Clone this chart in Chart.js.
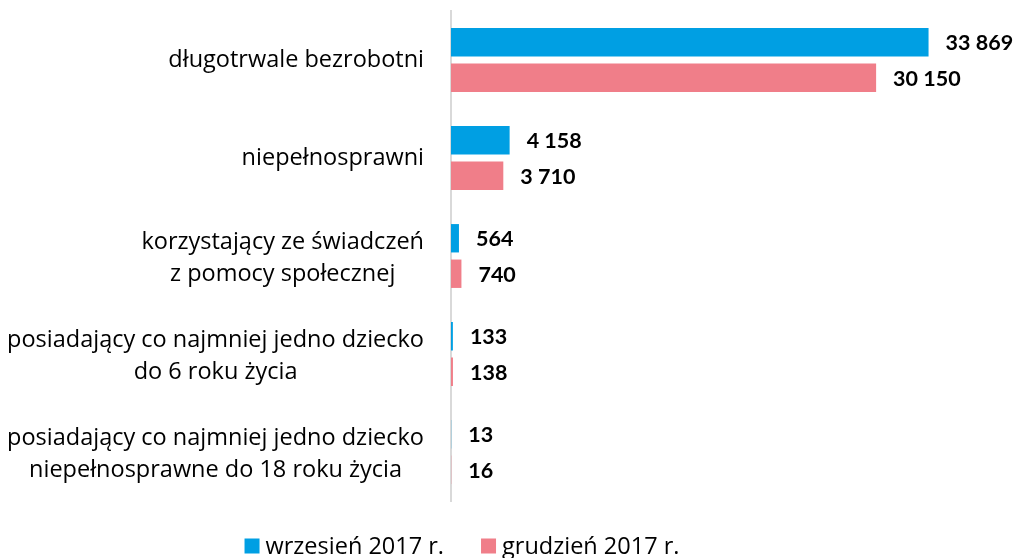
<!DOCTYPE html>
<html>
<head>
<meta charset="utf-8">
<script src="https://cdn.jsdelivr.net/npm/chart.js@4"></script>
<style>
  body { margin: 0; background: #fff; }
</style>
</head>
<body>
<canvas id="wykres" width="1021" height="558"></canvas>
<script>
// dane z wykresu
const kategorie = [
  ["długotrwale bezrobotni"],
  ["niepełnosprawni"],
  ["korzystający ze świadczeń", "z pomocy społecznej"],
  ["posiadający co najmniej jedno dziecko", "do 6 roku życia"],
  ["posiadający co najmniej jedno dziecko", "niepełnosprawne do 18 roku życia"]
];
const wrzesien = [33869, 4158, 564, 133, 13];
const grudzien = [30150, 3710, 740, 138, 16];
const serie = ["wrzesień 2017 r.", "grudzień 2017 r."];

const FONT = "'Open Sans'";
const FONT_B = "Lato";

function formatuj(v) {
  return String(v).replace(/\B(?=(\d{3})+(?!\d))/g, " ");
}

// etykiety kategorii - linie wyśrodkowane, blok wyrównany do prawej
const etykietyKategorii = {
  id: "etykietyKategorii",
  afterDraw(chart) {
    const ctx = chart.ctx;
    const y = chart.scales.y;
    ctx.save();
    ctx.font = "23.5px " + FONT;
    ctx.fillStyle = "#000";
    ctx.textAlign = "center";
    ctx.textBaseline = "middle";
    const prawo = chart.chartArea.left - 27;
    const wys = 32;
    for (let i = 0; i < kategorie.length; i++) {
      const linie = kategorie[i];
      let szer = 0;
      linie.forEach(l => { szer = Math.max(szer, ctx.measureText(l).width); });
      const cx = prawo - szer / 2;
      const cy = y.getPixelForValue(i) + (linie.length > 1 ? 2 : 0);
      for (let j = 0; j < linie.length; j++) {
        ctx.fillText(linie[j], cx, cy + (j - (linie.length - 1) / 2) * wys);
      }
    }
    ctx.restore();
  }
};

// wartości przy słupkach
const wartosci = {
  id: "wartosci",
  afterDatasetsDraw(chart) {
    const ctx = chart.ctx;
    ctx.save();
    ctx.font = "bold 21.5px " + FONT_B;
    ctx.fillStyle = "#000";
    ctx.textAlign = "left";
    ctx.textBaseline = "middle";
    chart.data.datasets.forEach((ds, di) => {
      chart.getDatasetMeta(di).data.forEach((bar, i) => {
        ctx.fillText(formatuj(ds.data[i]), bar.x + 17, bar.y + 1);
      });
    });
    ctx.restore();
  }
};

// legenda na dole
const legenda = {
  id: "legenda",
  afterDraw(chart) {
    const ctx = chart.ctx;
    ctx.save();
    ctx.font = "23.5px " + FONT;
    ctx.textBaseline = "middle";
    ctx.textAlign = "left";
    const box = 15, odstep = 6, przerwa = 37;
    const ds = chart.data.datasets;
    let calosc = 0;
    ds.forEach((d, i) => {
      calosc += box + odstep + ctx.measureText(d.label).width;
      if (i < ds.length - 1) calosc += przerwa;
    });
    let x = 462 - calosc / 2;
    const y = 546;
    ds.forEach(d => {
      ctx.fillStyle = d.backgroundColor;
      ctx.fillRect(x, y - box / 2, box, box);
      x += box + odstep;
      ctx.fillStyle = "#000";
      ctx.fillText(d.label, x, y + 1);
      x += ctx.measureText(d.label).width + przerwa;
    });
    ctx.restore();
  }
};

new Chart(document.getElementById("wykres"), {
  type: "bar",
  data: {
    labels: kategorie,
    datasets: [
      {
        label: serie[0],
        data: wrzesien,
        backgroundColor: "#009FE3",
        categoryPercentage: 0.724,
        barPercentage: 0.8
      },
      {
        label: serie[1],
        data: grudzien,
        backgroundColor: "#F07E89",
        categoryPercentage: 0.724,
        barPercentage: 0.8
      }
    ]
  },
  plugins: [etykietyKategorii, wartosci, legenda],
  options: {
    indexAxis: "y",
    responsive: false,
    animation: false,
    layout: {
      padding: { top: 11, right: 6, bottom: 57, left: 0 }
    },
    plugins: {
      legend: { display: false },
      tooltip: { enabled: false }
    },
    scales: {
      x: {
        display: false,
        min: 0,
        max: 40000
      },
      y: {
        grid: { display: false },
        ticks: { display: false },
        border: { display: true, color: "#D9D9D9", width: 2 },
        afterFit(scale) {
          scale.width = 451;
        }
      }
    }
  }
});
</script>
</body>
</html>
